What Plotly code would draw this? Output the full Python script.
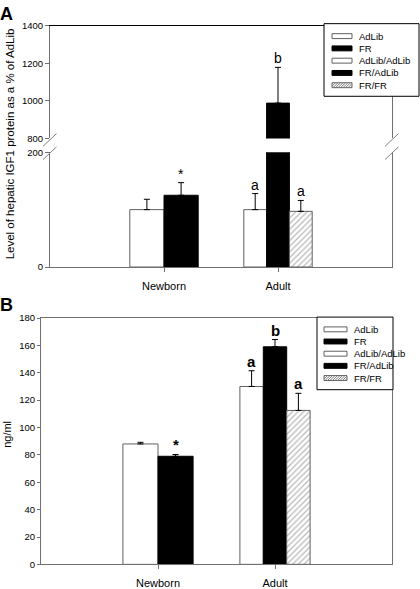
import plotly.graph_objects as go

W, H = 420, 589
def px(x): return x / W
def py(y): return 1 - y / H

FONT = "Arial, Liberation Sans, sans-serif"

groups = ["Newborn", "Adult"]
series = ["AdLib", "FR", "AdLib/AdLib", "FR/AdLib", "FR/FR"]
newborn_series = ["AdLib", "FR"]
adult_series = ["AdLib/AdLib", "FR/AdLib", "FR/FR"]

# Panel A: hepatic IGF1 protein (% of AdLib)
a_newborn_vals = [100, 125]
a_newborn_err = [18, 22]
a_adult_vals = [100, 988, 97]
a_adult_err = [28, 190, 19]
a_newborn_sig = ["", "*"]
a_adult_sig = ["a", "b", "a"]
a_upper_ticks = [800, 1000, 1200, 1400]
a_lower_ticks = [0, 200]

# Panel B: serum IGF1 (ng/ml)
b_newborn_vals = [88, 79]
b_newborn_err = [1.2, 1.3]
b_adult_vals = [130, 159, 112.5]
b_adult_err = [11.5, 5.3, 12.5]
b_newborn_sig = ["", "*"]
b_adult_sig = ["a", "b", "a"]
b_ticks = [0, 20, 40, 60, 80, 100, 120, 140, 160, 180]

styles = {
    "AdLib": dict(color="white", line="#606060", pattern=None),
    "FR": dict(color="black", line="black", pattern=None),
    "AdLib/AdLib": dict(color="white", line="#606060", pattern=None),
    "FR/AdLib": dict(color="black", line="black", pattern=None),
    "FR/FR": dict(color="white", line="#606060", pattern="/"),
}

fig = go.Figure()

def bar(name, group, val, err, w, off, xa, ya):
    st = styles[name]
    marker = dict(color=st["color"], line=dict(color=st["line"], width=1))
    if st["pattern"]:
        marker["pattern"] = dict(shape=st["pattern"], fgcolor="#707070", bgcolor="white",
                                 size=4, solidity=0.3)
    fig.add_trace(go.Bar(
        x=[group], y=[val], width=[w], offset=[off], name=name, showlegend=False,
        marker=marker, xaxis=xa, yaxis=ya, hoverinfo="skip",
        error_y=dict(type="data", symmetric=False, array=[err], arrayminus=[0],
                     color="black", thickness=1, width=3),
    ))

annotations = []

def layout_group(names, vals, errs, sigs, gi, w, offs, axes_list, sig_axes, size, bold):
    for n, v, e, s, o in zip(names, vals, errs, sigs, offs):
        for xa, ya in axes_list:
            bar(n, groups[gi], v, e, w, o, xa, ya)
        xa, ya = sig_axes(v + e)
        if s:
            annotations.append(dict(
                x=gi + o + w / 2, y=v + e, xref=xa, yref=ya,
                text=("<b>%s</b>" % s) if bold else s, showarrow=False, yanchor="bottom",
                font=dict(family=FONT, size=size, color="black"), yshift=-1))

# Panel A (broken axis: lower y, upper y2)
a_axes = [("x", "y"), ("x2", "y2")]
a_sig_axes = lambda t: ("x2", "y2") if t > a_lower_ticks[-1] else ("x", "y")
layout_group(newborn_series, a_newborn_vals, a_newborn_err, a_newborn_sig, 0, 0.3,
             [-0.3, 0.0], a_axes, a_sig_axes, 14, False)
layout_group(adult_series, a_adult_vals, a_adult_err, a_adult_sig, 1, 0.2,
             [-0.3, -0.1, 0.1], a_axes, a_sig_axes, 14, False)

# Panel B
b_axes = [("x3", "y3")]
b_sig_axes = lambda t: ("x3", "y3")
layout_group(newborn_series, b_newborn_vals, b_newborn_err, b_newborn_sig, 0, 0.3,
             [-0.3, 0.0], b_axes, b_sig_axes, 15, True)
layout_group(adult_series, b_adult_vals, b_adult_err, b_adult_sig, 1, 0.2,
             [-0.3, -0.1, 0.1], b_axes, b_sig_axes, 15, True)

AX = "#707070"
tickfont = dict(family=FONT, size=9.5, color="black")
xfont = dict(family=FONT, size=11, color="black")

fig.update_layout(
    width=W, height=H, autosize=False,
    margin=dict(l=0, r=0, t=0, b=0),
    paper_bgcolor="white", plot_bgcolor="white",
    barmode="overlay", showlegend=False, hovermode=False,
    font=dict(family=FONT, color="black"),
    xaxis=dict(domain=[px(50), px(392)], anchor="y", type="category",
               categoryorder="array", categoryarray=groups, range=[-1, 2],
               showline=True, linecolor=AX, linewidth=1, ticks="outside", ticklen=4,
               tickcolor=AX, tickfont=xfont, ticklabelstandoff=5, showgrid=False, zeroline=False),
    yaxis=dict(domain=[py(266), py(149)], anchor="x", range=[0, 200], tickvals=a_lower_ticks,
               showline=True, linecolor=AX, mirror=True, ticks="outside", ticklen=4,
               tickcolor=AX, tickfont=tickfont, showgrid=False, zeroline=False),
    xaxis2=dict(domain=[px(50), px(392)], anchor="y2", matches="x", type="category",
                side="top", showline=True, linecolor="black", showticklabels=False,
                ticks="", showgrid=False, zeroline=False),
    yaxis2=dict(domain=[py(135), py(20)], anchor="x2", range=[800, 1400], tickvals=a_upper_ticks,
                showline=True, linecolor=AX, mirror=True, ticks="outside", ticklen=4,
                tickcolor=AX, tickfont=tickfont, showgrid=False, zeroline=False),
    xaxis3=dict(domain=[px(41), px(392)], anchor="y3", type="category",
                categoryorder="array", categoryarray=groups, range=[-1, 2],
                showline=True, linecolor=AX, mirror=True, ticks="outside", ticklen=4,
                tickcolor=AX, tickfont=xfont, ticklabelstandoff=4, showgrid=False, zeroline=False),
    yaxis3=dict(domain=[py(569), py(318)], anchor="x3", range=[0, 180], tickvals=b_ticks,
                showline=True, linecolor=AX, mirror=True, ticks="outside", ticklen=3,
                tickcolor=AX, tickfont=tickfont, showgrid=False, zeroline=False),
)

shapes = []
# axis break marks (panel A)
for bx in (50, 392):
    for yc in (136.5, 150):
        shapes.append(dict(type="line", xref="paper", yref="paper",
                           x0=px(bx - 7), y0=py(yc + 6.5), x1=px(bx + 6.5), y1=py(yc - 6.5),
                           line=dict(color="#808080", width=1), layer="above"))

def legend(box, sw_x0, sw_x1, text_x, row0, dy):
    x0, y0, x1, y1 = box
    shapes.append(dict(type="rect", xref="paper", yref="paper", x0=px(x0), y0=py(y1),
                       x1=px(x1), y1=py(y0), fillcolor="white",
                       line=dict(color="black", width=1), layer="above"))
    for i, name in enumerate(series):
        st = styles[name]
        yc = row0 + i * dy
        shapes.append(dict(type="rect", xref="paper", yref="paper", x0=px(sw_x0), y0=py(yc + 2.5),
                           x1=px(sw_x1), y1=py(yc - 2.5), fillcolor=st["color"],
                           line=dict(color=st["line"], width=1), layer="above"))
        if st["pattern"]:
            path = ""
            xs = sw_x0 - 4
            while xs < sw_x1:
                xa = max(xs, sw_x0)
                ya_ = yc + 2.5 - (xa - xs)
                xb = min(xs + 5, sw_x1)
                yb = yc + 2.5 - (xb - xs)
                path += "M%f,%f L%f,%f " % (px(xa), py(ya_), px(xb), py(yb))
                xs += 2.5
            shapes.append(dict(type="path", xref="paper", yref="paper", path=path,
                               line=dict(color="#808080", width=1), layer="above"))
        annotations.append(dict(x=px(text_x), y=py(yc), xref="paper", yref="paper",
                                text=name, showarrow=False, xanchor="left", yanchor="middle",
                                font=dict(family=FONT, size=9.5, color="black")))

legend((324, 18, 419, 92), 332, 352, 357, 30.7, 12.5)
legend((317, 317, 393, 391), 324, 347, 352, 329.5, 12.4)

# panel letters and axis titles
annotations += [
    dict(x=0, y=py(0), xref="paper", yref="paper", text="<b>A</b>", showarrow=False,
         xanchor="left", yanchor="top", font=dict(family=FONT, size=18, color="black"),
         xshift=-2, yshift=4),
    dict(x=0, y=py(297), xref="paper", yref="paper", text="<b>B</b>", showarrow=False,
         xanchor="left", yanchor="top", font=dict(family=FONT, size=18, color="black"),
         xshift=-2, yshift=4),
    dict(x=px(10), y=py(141), xref="paper", yref="paper",
         text="Level of hepatic IGF1 protein as a % of AdLib", textangle=-90, showarrow=False,
         xanchor="center", yanchor="middle", font=dict(family=FONT, size=11.5, color="black")),
    dict(x=px(7), y=py(437), xref="paper", yref="paper", text="ng/ml", textangle=-90,
         showarrow=False, xanchor="center", yanchor="middle",
         font=dict(family=FONT, size=11, color="black")),
]

fig.update_layout(shapes=shapes, annotations=annotations)
fig.write_html("out.html", config={"displayModeBar": False, "staticPlot": True},
               post_script="document.body.style.margin='0';document.body.style.padding='0';")
